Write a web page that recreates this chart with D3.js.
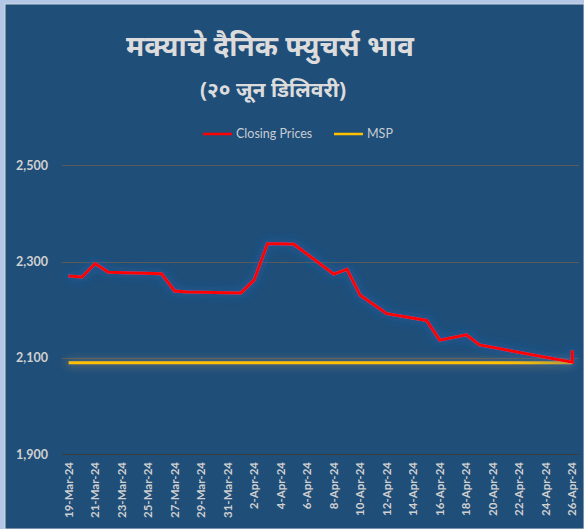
<!DOCTYPE html>
<html>
<head>
<meta charset="utf-8">
<script src="https://cdn.jsdelivr.net/npm/d3@7"></script>
<style>
  html, body { margin: 0; padding: 0; background: #b4c7e7; }
  svg { display: block; }
</style>
</head>
<body>
<svg width="584" height="529"></svg>
<script>
const width = 584, height = 529;

// data
const dates = ["2024-03-19","2024-03-20","2024-03-21","2024-03-22","2024-03-26","2024-03-27","2024-03-28",
    "2024-04-01","2024-04-02","2024-04-03","2024-04-04","2024-04-05","2024-04-08","2024-04-09","2024-04-10",
    "2024-04-12","2024-04-15","2024-04-16","2024-04-18","2024-04-19","2024-04-26","2024-04-26"];
const closingPrices = [2270, 2268, 2296, 2278, 2275, 2239, 2237,
    2235, 2262, 2337, 2337, 2336, 2274, 2284, 2230,
    2192, 2178, 2137, 2148, 2127, 2091, 2116];
const mspDates = ["2024-03-19", "2024-04-26"];
const mspValues = [2090, 2090];
const yTicks = [1900, 2100, 2300, 2500];
const tickDates = d3.range(0, 20).map(i => new Date(2024, 2, 19 + i * 2));

const titleText = "मक्याचे दैनिक फ्युचर्स भाव";
const subtitleText = "(२० जून डिलिवरी)";
const seriesNames = ["Closing Prices", "MSP"];
const seriesColors = ["#ff0000", "#ffc000"];

const parse = d3.timeParse("%Y-%m-%d");
const closeData = dates.map((d, i) => ({date: parse(d), value: closingPrices[i]}));
const mspData = mspDates.map((d, i) => ({date: parse(d), value: mspValues[i]}));

const svg = d3.select("svg");

// glow filters (user space so a flat line still gets a region)
const defs = svg.append("defs");
function glow(id, color, sd, op) {
    const f = defs.append("filter").attr("id", id)
        .attr("filterUnits", "userSpaceOnUse")
        .attr("x", 0).attr("y", 0).attr("width", width).attr("height", height);
    f.append("feMorphology").attr("in", "SourceAlpha").attr("operator", "dilate").attr("radius", 2).attr("result", "d");
    f.append("feGaussianBlur").attr("in", "d").attr("stdDeviation", sd).attr("result", "b");
    f.append("feFlood").attr("flood-color", color).attr("flood-opacity", op);
    f.append("feComposite").attr("in2", "b").attr("operator", "in").attr("result", "g");
    const m = f.append("feMerge");
    m.append("feMergeNode").attr("in", "g");
    m.append("feMergeNode").attr("in", "SourceGraphic");
}
glow("glowBlue", "#1b5ea6", 4, 0.55);
glow("glowGrey", "#7f7a6c", 4, 0.6);

// panel
svg.append("rect")
    .attr("x", 5).attr("y", 4)
    .attr("width", width - 5).attr("height", height - 4)
    .attr("fill", "#1f4e79")
    .attr("stroke", "#d0d8e4").attr("stroke-width", 1);

// scales
const x = d3.scaleTime()
    .domain([new Date(2024, 2, 18, 12), new Date(2024, 3, 26, 12)])
    .range([62, 579]);
const y = d3.scaleLinear()
    .domain([1900, 2500])
    .range([454.3, 165.3]);

// titles
svg.append("text")
    .attr("x", 270).attr("y", 56)
    .attr("text-anchor", "middle")
    .attr("fill", "#dcdcdc")
    .style("font-family", "'Noto Sans', sans-serif")
    .style("font-weight", "bold")
    .style("font-size", "28px")
    .text(titleText);
svg.append("text")
    .attr("x", 273).attr("y", 97)
    .attr("text-anchor", "middle")
    .attr("fill", "#dcdcdc")
    .style("font-family", "'Noto Sans', sans-serif")
    .style("font-weight", "bold")
    .style("font-size", "21px")
    .text(subtitleText);

// legend
const legendX = [203, 334];
const legend = svg.append("g")
    .selectAll("g")
    .data(seriesNames)
    .join("g")
        .attr("transform", (d, i) => `translate(${legendX[i]}, 134)`);
legend.append("line")
    .attr("x1", 0).attr("x2", 29)
    .attr("stroke", (d, i) => seriesColors[i])
    .attr("stroke-width", 2.5);
legend.append("text")
    .attr("x", 33).attr("y", 4)
    .attr("fill", "#c8ccd2")
    .style("font-family", "Lato, sans-serif")
    .style("font-size", "12.5px")
    .text(d => d);

// gridlines
svg.append("g")
    .selectAll("line")
    .data(yTicks)
    .join("line")
        .attr("x1", 62).attr("x2", 579)
        .attr("y1", d => Math.round(y(d)) + 0.5)
        .attr("y2", d => Math.round(y(d)) + 0.5)
        .attr("stroke", d => d === 1900 ? "#3c3c3c" : "#5a5a5a")
        .attr("stroke-width", 1);

// y axis labels
svg.append("g")
    .selectAll("text")
    .data(yTicks)
    .join("text")
        .attr("x", 48)
        .attr("y", d => y(d) + 4.5)
        .attr("text-anchor", "end")
        .attr("fill", "#d0d0d0")
        .style("font-family", "Lato, sans-serif")
        .style("font-weight", "bold")
        .style("font-size", "12.5px")
        .text(d3.format(","));

// x axis labels
const fmt = d3.timeFormat("%-d-%b-%y");
svg.append("g")
    .selectAll("text")
    .data(tickDates)
    .join("text")
        .attr("transform", d => `translate(${x(d) + 4}, 462) rotate(-90)`)
        .attr("text-anchor", "end")
        .attr("fill", "#d0d0d0")
        .style("font-family", "Lato, sans-serif")
        .style("font-weight", "bold")
        .style("font-size", "11.5px")
        .text(fmt);

// lines
const line = d3.line()
    .x(d => x(d.date))
    .y(d => y(d.value));

svg.append("path")
    .datum(mspData)
    .attr("d", line)
    .attr("fill", "none")
    .attr("stroke", seriesColors[1])
    .attr("stroke-width", 3)
    .attr("filter", "url(#glowGrey)");

svg.append("path")
    .datum(closeData)
    .attr("d", line)
    .attr("fill", "none")
    .attr("stroke", seriesColors[0])
    .attr("stroke-width", 3)
    .attr("stroke-linejoin", "miter")
    .attr("filter", "url(#glowBlue)");
</script>
</body>
</html>
